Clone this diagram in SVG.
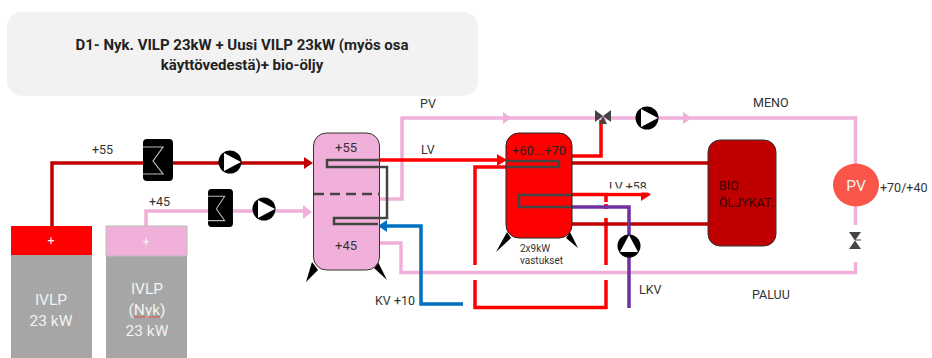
<svg xmlns="http://www.w3.org/2000/svg" width="932" height="358" viewBox="0 0 932 358">
<style>
text{font-family:"Roboto","Liberation Sans",sans-serif;fill:#333;font-size:12.500px}
.p{fill:none;stroke-linejoin:miter}
.pink{stroke:#f0b0da;stroke-width:3.500}
.red{stroke:#ff0000;stroke-width:3.500}
.dred{stroke:#c00000;stroke-width:3.500}
.coil{fill:none;stroke:#444;stroke-width:2.500}
.lt{fill:#f2f2f2;font-size:15.500px;text-anchor:middle}
.tt{font-weight:700;font-size:15px;fill:#222;text-anchor:middle}
.pf{fill:#f0b0da}
.rf{fill:#ff0000}
.leg{fill:#000}
</style>
<defs>
<g id="pump"><circle r="11.500" fill="#000"/><polygon points="-6,-9 11,0 -6,9" fill="#fff"/></g>
<g id="hx"><rect x="-15" y="-21" width="30" height="42" rx="4" fill="#000"/><path d="M-15,-13H5L-5,1L5,14H-15" fill="none" stroke="#bbb" stroke-width="1.200"/></g>
</defs>
<g id="title"><rect x="7" y="12" width="471" height="84" rx="15" fill="#f2f2f2"/>
<text x="242" y="50" class="tt">D1- Nyk. VILP 23kW + Uusi VILP 23kW (myös osa</text>
<text x="242" y="70" class="tt">käyttövedestä)+ bio-öljy</text></g>
<g id="connectors">
<path class="p dred" d="M52,226V163H143M173,163H219M241,163H305"/>
<polygon points="304,157 313,163 304,169" fill="#c00000"/>
<path class="p pink" d="M146,226V211H208M233,211H253M275,211H304"/>
<polygon points="303,205 312,212 303,219" class="pf"/>
<path class="p pink" d="M380,199H402V118H855.500V225M855.500,262V272.500H401V243H379"/>
<polygon points="503,112 511,118 503,124" class="pf"/><polygon points="683,112 692,118 683,124" class="pf"/>
<path class="p red" d="M380,160H500"/><polygon points="497,154 507,160 497,166" class="rf"/>
<path class="p red" d="M508,167H475V265M475,280V307.500H606V280M606,265V218M606,209V204M606,202V196"/>
<path class="p red" d="M571,156H601V120"/>
<path class="p dred" d="M571,163H708M571,224H708"/>
<path class="p red" d="M571,194.500H644"/><polygon points="641,188 651,194.500 641,201" class="rf"/>
<path class="p" stroke="#7030a0" stroke-width="3.500" d="M571,207H629V236M629,256V308"/>
<path class="p" stroke="#0070c0" stroke-width="3.500" d="M463,304H421V226H385"/>
<polygon points="378,226 387,220 387,232" fill="#0070c0"/>
</g>
<g id="ivlp1"><rect x="11" y="226" width="81" height="132" fill="#a6a6a6"/><rect x="11" y="226" width="81" height="29" class="rf"/>
<text x="51" y="245" text-anchor="middle" style="fill:#f4f4f4">+</text>
<text x="51" y="305" class="lt">IVLP</text><text x="51" y="326" class="lt">23 kW</text></g>
<g id="ivlp2"><rect x="106" y="226" width="81" height="132" fill="#a6a6a6"/><rect x="106" y="226" width="81" height="30" class="pf" stroke="#bbb"/>
<text x="146" y="246" text-anchor="middle" style="fill:#f4f4f4">+</text>
<text x="147" y="294" class="lt">IVLP</text><text x="147" y="315" class="lt">(Nyk)</text><text x="147" y="336" class="lt">23 kW</text>
<path d="M134,317H160" stroke="#d9534f" stroke-width="1" fill="none"/></g>
<g id="hx1"><use href="#hx" transform="translate(158 160)"/></g>
<g id="hx2"><use href="#hx" transform="translate(220.500 208) scale(.83 .9)"/></g>
<g id="pump1"><use href="#pump" transform="translate(230 162)"/></g>
<g id="pump2"><use href="#pump" transform="translate(264 209)"/></g>
<g id="tank1">
<polygon class="leg" points="312,262 318,270 306,282"/>
<polygon class="leg" points="378,262 374,268 387,280"/>
<rect x="313.500" y="133" width="66" height="137" rx="13" class="pf" stroke="#333" stroke-width="1"/>
<path class="coil" d="M380,160H327V167H387V218H334V224H378"/>
<path d="M314,194H380" stroke="#444" stroke-width="2.500" stroke-dasharray="10 6" fill="none"/>
<text x="346" y="152" text-anchor="middle" style="font-size:13px">+55</text>
<text x="346" y="250" text-anchor="middle" style="font-size:13px">+45</text></g>
<g id="tank2">
<polygon class="leg" points="507,232 511,238 496,252"/>
<polygon class="leg" points="570,232 566,238 578,248"/>
<rect x="506" y="133" width="66" height="105" rx="13" class="rf" stroke="#222" stroke-width="1"/>
<path class="coil" d="M506,161H559V167H506M571,195H519V207H571"/>
<text x="539" y="155" text-anchor="middle" style="font-size:13px;fill:#222">+60...+70</text>
<text x="520" y="252" style="font-size:10px">2x9kW</text><text x="520" y="264" style="font-size:10px">vastukset</text></g>
<g id="valve1"><path d="M595,110L603,116L611,110V122L603,116L595,122Z" fill="#444"/><path d="M599,124H607L603,116Z" fill="#444"/></g>
<g id="pump3"><use href="#pump" transform="translate(647 118)"/></g>
<g id="pump4"><use href="#pump" transform="translate(629 246) rotate(-90)"/></g>
<g id="bio"><rect x="708" y="140" width="68" height="106" rx="12" fill="#c00000" stroke="#333" stroke-width="1"/>
<text x="719" y="190" style="fill:#300">BIO</text><text x="719" y="207" style="fill:#300">ÖLJYKAT.</text></g>
<g id="pv"><ellipse cx="856" cy="185" rx="23" ry="21.500" fill="#f95548"/>
<text x="856" y="191" class="lt">PV</text></g>
<g id="valve2"><path d="M849,232H861L849,249H861Z" fill="#444"/><path d="M855,240H861" stroke="#444"/></g>
<g id="labels">
<text x="92" y="154">+55</text><text x="149" y="206">+45</text>
<text x="420" y="108">PV</text><text x="421" y="154">LV</text>
<text x="609" y="191">LV +58</text><rect x="608" y="188.500" width="42" height="4" fill="#fff"/>
<text x="753" y="107">MENO</text><text x="752" y="299">PALUU</text>
<text x="880" y="192">+70/+40</text><text x="375" y="305">KV +10</text><text x="639" y="294">LKV</text></g>
</svg>
